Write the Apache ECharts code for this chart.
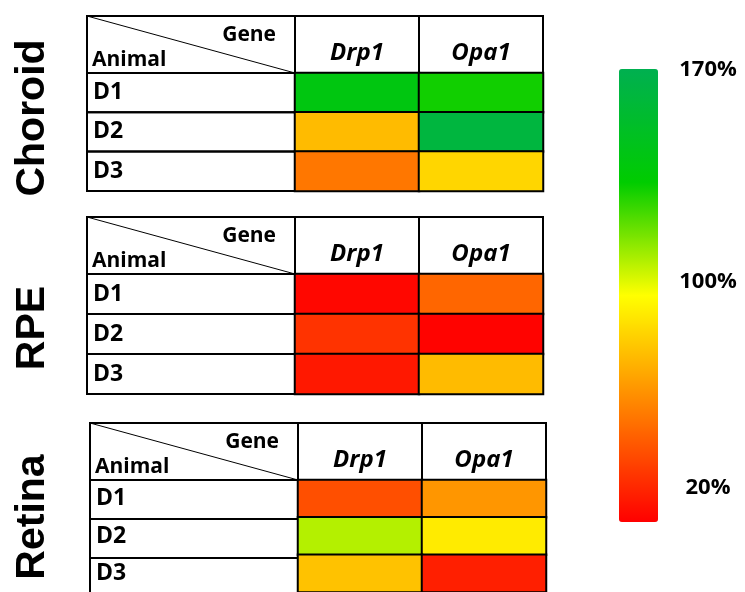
<!DOCTYPE html>
<html lang="en">
<head>
<meta charset="utf-8">
<title>Drp1 / Opa1 expression</title>
<script src="https://cdn.jsdelivr.net/npm/echarts@6/dist/echarts.min.js"></script>
<style>
  html, body { margin: 0; background: #fff; }
  #main { width: 745px; height: 592px; }
</style>
</head>
<body>
<div id="main"></div>
<script>
// data
var tissues = ['Choroid', 'RPE', 'Retina'];
var genes = ['Drp1', 'Opa1'];
var animals = ['D1', 'D2', 'D3'];
// % of control, rows D1..D3, cols Drp1, Opa1
var choroid = [[140, 130], [75, 162], [55, 83]];
var rpe = [[22, 50], [35, 21], [27, 75]];
var retina = [[43, 64], [106, 89], [77, 29]];
var scaleMin = 20, scaleMax = 170;
var scaleLabels = ['170%', '100%', '20%'];

// layout
var tables = [
    { left: 87, top: 16, rowH: 39.3 },
    { left: 87, top: 217, rowH: 40 },
    { left: 90, top: 423, rowH: 39 }
];
var labelW = 208, colW = 124, headH = 57;
var scaleLabelY = [70, 282, 488];
var tableFont = '"Open Sans", sans-serif';

var values = [choroid, rpe, retina];
var grids = [], xAxes = [], yAxes = [], series = [], graphics = [];

tables.forEach(function (t, i) {
    grids.push({ left: t.left + labelW, top: t.top + headH, width: genes.length * colW, height: animals.length * t.rowH });
    xAxes.push({
        type: 'category', gridIndex: i, data: genes, position: 'top',
        axisLine: { show: false }, axisTick: { show: false }, splitLine: { show: false },
        axisLabel: { margin: headH - 37, verticalAlign: 'middle', fontFamily: tableFont, fontSize: 24, fontWeight: 'bold', fontStyle: 'italic', color: '#000' }
    });
    yAxes.push({
        type: 'category', gridIndex: i, data: animals, inverse: true,
        axisLine: { show: false }, axisTick: { show: false }, splitLine: { show: false },
        axisLabel: { margin: labelW - 6, align: 'left', fontFamily: tableFont, fontSize: 23, fontWeight: 'bold', color: '#000' }
    });
    var d = [];
    values[i].forEach(function (row, r) {
        row.forEach(function (v, c) { d.push([c, r, v]); });
    });
    series.push({
        type: 'heatmap', xAxisIndex: i, yAxisIndex: i, data: d,
        itemStyle: { borderColor: '#000', borderWidth: 2 },
        emphasis: { disabled: true }
    });

    // table frame
    var frame = { fill: 'none', stroke: '#000', lineWidth: 2 };
    graphics.push({ type: 'rect', shape: { x: t.left, y: t.top, width: labelW, height: headH }, style: frame });
    genes.forEach(function (g, j) {
        graphics.push({ type: 'rect', shape: { x: t.left + labelW + j * colW, y: t.top, width: colW, height: headH }, style: frame });
    });
    animals.forEach(function (a, r) {
        graphics.push({ type: 'rect', shape: { x: t.left, y: t.top + headH + r * t.rowH, width: labelW, height: t.rowH }, style: frame });
    });
    graphics.push({ type: 'line', shape: { x1: t.left, y1: t.top, x2: t.left + labelW, y2: t.top + headH }, style: { stroke: '#000', lineWidth: 1 } });
    graphics.push({ type: 'text', x: t.left + labelW - 19, y: t.top + 19,
        style: { text: 'Gene', align: 'right', verticalAlign: 'middle', font: 'bold 21px ' + tableFont, fill: '#000' } });
    graphics.push({ type: 'text', x: t.left + 5, y: t.top + 44,
        style: { text: 'Animal', align: 'left', verticalAlign: 'middle', font: 'bold 21px ' + tableFont, fill: '#000' } });
});

// tissue names, rotated
var tissueY = [118, 328, 517];
tissues.forEach(function (name, i) {
    graphics.push({ type: 'text', x: 33, y: tissueY[i], rotation: Math.PI / 2,
        style: { text: name, align: 'center', verticalAlign: 'middle', font: 'bold 41px "Liberation Sans", Arial, sans-serif', fill: '#000' } });
});

// colour scale labels
scaleLabels.forEach(function (s, i) {
    graphics.push({ type: 'text', x: 708, y: scaleLabelY[i],
        style: { text: s, align: 'center', verticalAlign: 'middle', font: 'bold 22px ' + tableFont, fill: '#000' } });
});

var chart = echarts.init(document.getElementById('main'));
chart.setOption({
    animation: false,
    grid: grids,
    xAxis: xAxes,
    yAxis: yAxes,
    visualMap: {
        type: 'continuous', min: scaleMin, max: scaleMax, calculable: false,
        seriesIndex: [0, 1, 2], left: 619, top: 69, padding: 0,
        itemWidth: 39, itemHeight: 453,
        inRange: { color: ['#ff0000', '#ff8000', '#ffff00', '#00cc00', '#00b050'] }
    },
    graphic: graphics,
    series: series
});
</script>
</body>
</html>
